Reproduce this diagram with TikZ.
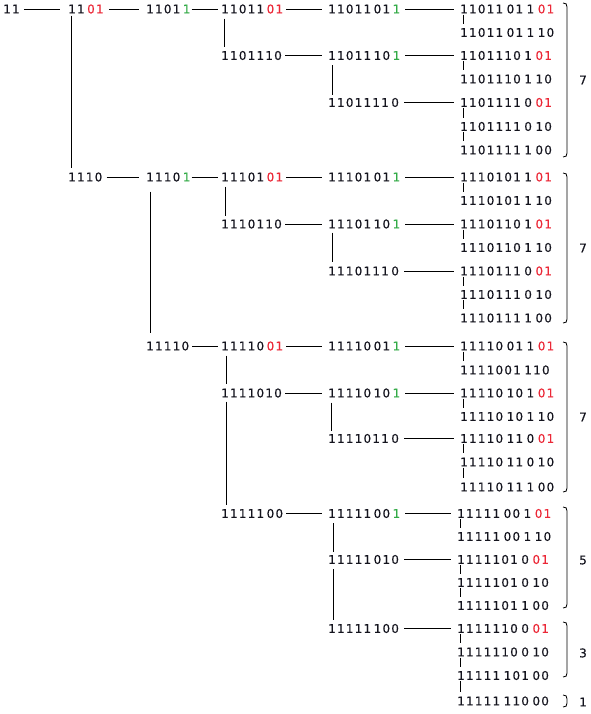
\documentclass[tikz,border=0pt]{standalone}
\usepackage{fontspec}
\setmainfont[LetterSpace=10,FakeBold=0.35]{DejaVu Sans}
\definecolor{rd}{RGB}{235,40,55}
\definecolor{gn}{RGB}{50,170,70}
\definecolor{ink}{RGB}{20,20,30}
\newcommand\R[1]{\textcolor{rd}{#1}}
\newcommand\G[1]{\textcolor{gn}{#1}}
\newcommand\g{\kern3.5pt}
\newcommand\hh{\kern2.5pt}
\begin{document}
\begin{tikzpicture}[x=1pt,y=-1pt,
 lbl/.style={anchor=west,inner sep=0pt,text height=8.7pt,text depth=0pt,text=ink,font=\fontsize{12}{14}\selectfont},
 hl/.style={line width=0.9pt,shorten <=#1},
 hl/.default=5pt,
 vl/.style={line width=0.9pt},
 tk/.style={line width=0.9pt,shorten <=1pt,shorten >=4pt},
 br/.style={line width=0.8pt}]
\useasboundingbox (0,0) rectangle (590,714);
% column 1-4
\node[lbl] (a11) at (3,9) {11};
\node[lbl] (a1101) at (68,9) {11\hh\R{01}};
\node[lbl] (a1110) at (68,177) {1110};
\node[lbl] (b11011) at (146,9) {1101\hh\G{1}};
\node[lbl] (b11101) at (146,177) {1110\hh\G{1}};
\node[lbl] (b11110) at (146,346) {11110};
\node[lbl] (c1101101) at (221,9) {11011\hh\R{01}};
\node[lbl] (c1101110) at (221,55.5) {1101110};
\node[lbl] (c1110101) at (221,177) {11101\hh\R{01}};
\node[lbl] (c1110110) at (221,224) {1110110};
\node[lbl] (c1111001) at (221,346) {11110\hh\R{01}};
\node[lbl] (c1111010) at (221,393) {1111010};
\node[lbl] (c1111100) at (221,513.5) {11111\hh00};
% column 5
\node[lbl] (d11011011) at (328,9) {11011\hh01\hh\G{1}};
\node[lbl] (d11011101) at (328,55.5) {11011\hh10\hh\G{1}};
\node[lbl] (d11011110) at (328,102.5) {1101111\hh0};
\node[lbl] (d11101011) at (328,177) {11101\hh01\hh\G{1}};
\node[lbl] (d11101101) at (328,224) {11101\hh10\hh\G{1}};
\node[lbl] (d11101110) at (328,271) {1110111\hh0};
\node[lbl] (d11110011) at (328,346) {11110\hh01\hh\G{1}};
\node[lbl] (d11110101) at (328,393) {11110\hh10\hh\G{1}};
\node[lbl] (d11110110) at (328,438.5) {1111011\hh0};
\node[lbl] (d11111001) at (328,513.5) {11111\hh00\hh\G{1}};
\node[lbl] (d11111010) at (328,559.5) {11111\hh010};
\node[lbl] (d11111100) at (328,628.5) {11111\hh100};
% leaves
\node[lbl] (L1) at (460,9) {11011\g01\g1\g\R{01}};
\node[lbl] (L2) at (460,32.5) {11011\g01\g1\g10};
\node[lbl] (L3) at (460,55.5) {1101110\g1\g\R{01}};
\node[lbl] (L4) at (460,79) {1101110\g1\g10};
\node[lbl] (L5) at (460,102.5) {1101111\g0\g\R{01}};
\node[lbl] (L6) at (460,126.5) {1101111\g0\g10};
\node[lbl] (L7) at (460,150) {1101111\g1\g00};
\node[lbl] (L8) at (460,177) {1110101\g1\g\R{01}};
\node[lbl] (L9) at (460,200.5) {1110101\g1\g10};
\node[lbl] (L10) at (460,224) {1110110\g1\g\R{01}};
\node[lbl] (L11) at (460,247.5) {1110110\g1\g10};
\node[lbl] (L12) at (460,271) {1110111\g0\g\R{01}};
\node[lbl] (L13) at (460,294.5) {1110111\g0\g10};
\node[lbl] (L14) at (460,318) {1110111\g1\g00};
\node[lbl] (L15) at (460,346) {11110\g01\g1\g\R{01}};
\node[lbl] (L16) at (460,370) {1111001\g110};
\node[lbl] (L17) at (460,393) {11110\g10\g1\g\R{01}};
\node[lbl] (L18) at (460,416.5) {11110\g10\g1\g10};
\node[lbl] (L19) at (460,438.5) {11110\g11\g0\g\R{01}};
\node[lbl] (L20) at (460,462) {11110\g11\g0\g10};
\node[lbl] (L21) at (460,487) {11110\g11\g1\g00};
\node[lbl] (L22) at (457,513.5) {11111\g00\g1\g\R{01}};
\node[lbl] (L23) at (457,536.5) {11111\g00\g1\g10};
\node[lbl] (L24) at (457,559.5) {1111101\g0\g\R{01}};
\node[lbl] (L25) at (457,582.5) {1111101\g0\g10};
\node[lbl] (L26) at (457,605.5) {1111101\g1\g00};
\node[lbl] (L27) at (457,628.5) {1111110\g0\g\R{01}};
\node[lbl] (L28) at (457,652) {1111110\g0\g10};
\node[lbl] (L29) at (457,675.5) {11111\g101\g00};
\node[lbl] (L30) at (457,701) {11111\g110\g00};
% counts
\node[lbl] (k1) at (579,80) {7};
\node[lbl] (k2) at (579,248) {7};
\node[lbl] (k3) at (579,417) {7};
\node[lbl] (k4) at (579,560) {5};
\node[lbl] (k5) at (579,653) {3};
\node[lbl] (k6) at (579,702) {1};
% horizontal connectors
\draw[hl=4pt,shorten >=8pt] (a11.east) -- (a1101.west);
\draw[hl=5pt,shorten >=7pt] (a1101.east) -- (b11011.west);
\draw[hl=4pt,shorten >=7pt] (a1110.east) -- (b11101.west);
\draw[hl=1pt,shorten >=3pt] (b11011.east) -- (c1101101.west);
\draw[hl=1pt,shorten >=3pt] (b11101.east) -- (c1110101.west);
\draw[hl=3pt,shorten >=3pt] (b11110.east) -- (c1111001.west);
\foreach \a/\b in {c1101101/d11011011,c1101110/d11011101,c1110101/d11101011,c1110110/d11101101,c1111001/d11110011,c1111010/d11110101,c1111100/d11111001}
  \draw[hl=3pt,shorten >=6pt] (\a.east) -- (\b.west);
\foreach \a/\b in {d11011011/L1,d11011101/L3,d11011110/L5,d11101011/L8,d11101101/L10,d11101110/L12,d11110011/L15,d11110101/L17,d11110110/L19,d11111001/L22,d11111010/L24,d11111100/L27}
  \draw[hl=5pt,shorten >=6pt] (\a.east) -- (\b.west);
% vertical connectors
\draw[vl,shorten <=2pt,shorten >=4pt] ([xshift=3pt]a1101.south west) -- ([xshift=3pt]a1110.north west);
\draw[vl,shorten <=10pt,shorten >=8pt] ([xshift=4pt]b11101.south west) -- ([xshift=4pt]b11110.north west);
\draw[vl,shorten <=5pt,shorten >=3.5pt] ([xshift=3pt]c1101101.south west) -- ([xshift=3pt]c1101110.north west);
\draw[vl,shorten <=5pt,shorten >=3.5pt] ([xshift=4pt]c1110101.south west) -- ([xshift=4pt]c1110110.north west);
\draw[vl,shorten <=5pt,shorten >=4pt] ([xshift=5pt]c1111001.south west) -- ([xshift=5pt]c1111010.north west);
\draw[vl,shorten <=4pt,shorten >=4pt] ([xshift=5pt]c1111010.south west) -- ([xshift=5pt]c1111100.north west);
\draw[vl,shorten <=5pt,shorten >=3pt] ([xshift=4pt]d11011101.south west) -- ([xshift=4pt]d11011110.north west);
\draw[vl,shorten <=4pt,shorten >=4.5pt] ([xshift=4pt]d11101101.south west) -- ([xshift=4pt]d11101110.north west);
\draw[vl,shorten <=5pt,shorten >=3pt] ([xshift=3pt]d11110101.south west) -- ([xshift=3pt]d11110110.north west);
\draw[vl,shorten <=5pt,shorten >=3pt] ([xshift=5pt]d11111001.south west) -- ([xshift=5pt]d11111010.north west);
\draw[vl,shorten <=5pt,shorten >=4pt] ([xshift=5pt]d11111010.south west) -- ([xshift=5pt]d11111100.north west);
% leaf ticks
\foreach \a/\b in {L1/L2,L3/L4,L5/L6,L6/L7,L8/L9,L10/L11,L12/L13,L13/L14,L15/L16,L17/L18,L19/L20,L20/L21,L22/L23,L24/L25,L25/L26,L27/L28,L28/L29,L29/L30}
  \draw[tk] ([xshift=3.5pt]\a.south west) -- ([xshift=3.5pt]\b.north west);
% brackets
\foreach \ya/\yb in {3/157,173/323,342/492,507/608,622/677,695/707}
  \draw[br] (563,\ya) .. controls (566,\ya) and (567,\ya+1) .. (567,\ya+4) -- (567,\yb-4) .. controls (567,\yb-1) and (566,\yb) .. (563,\yb);
\end{tikzpicture}
\end{document}
